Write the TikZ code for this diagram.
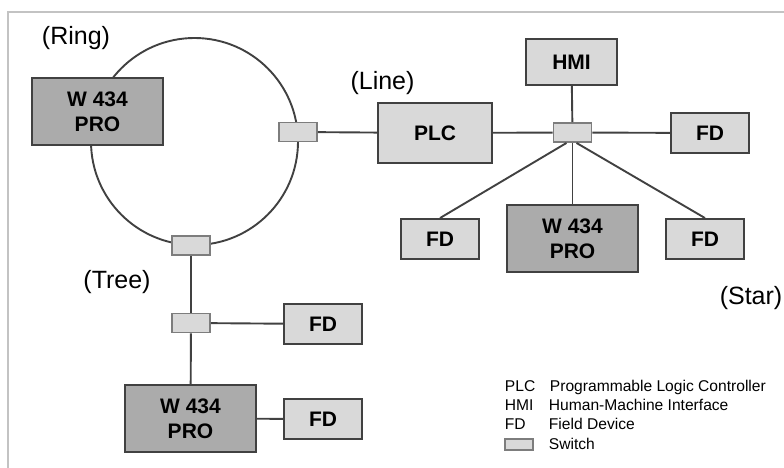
\documentclass[tikz,border=0pt]{standalone}
\usepackage{fontspec}
\setmainfont{Liberation Sans}
\definecolor{boxlight}{RGB}{217,217,217}
\definecolor{boxdark}{RGB}{171,171,171}
\definecolor{boxline}{RGB}{65,65,65}
\definecolor{switchline}{RGB}{125,125,125}
\definecolor{wiregray}{RGB}{65,65,65}
\definecolor{framegray}{RGB}{195,195,195}
\begin{document}
\begin{tikzpicture}[x=1bp, y=-1bp, line width=1.9bp]

    \tikzset{device/.style={%
      draw=boxline,%
      rectangle,%
      fill=boxlight,%
      inner sep=0pt,%
      align=center,%
      font=\fontsize{21bp}{25bp}\selectfont\bfseries}%
    };

    \tikzset{fdbox/.style={device, minimum width=78bp, minimum height=40bp}};
    \tikzset{probox/.style={device, fill=boxdark, minimum width=131bp, minimum height=67bp}};
    \tikzset{switchbox/.style={draw=switchline, fill=boxlight, rectangle, inner sep=0pt,%
      minimum width=38bp, minimum height=19bp}};
    \tikzset{wire/.style={draw=wiregray}};
    \tikzset{toplabel/.style={font=\fontsize{25bp}{29bp}\selectfont}};
    \tikzset{legend/.style={anchor=base west, inner sep=0pt, font=\fontsize{15.6bp}{18bp}\selectfont}};

    \useasboundingbox (0, 0) rectangle (784, 468);
    \draw[framegray, line width=1.2bp] (8, 468) -- (8, 12) -- (784, 12);

    %%%%%%%%%%%%%%%
    % ring        %
    %%%%%%%%%%%%%%%
    \path (194.5, 141.5) coordinate (ringc);
    \draw[wire] (ringc) circle [radius=103.5];

    \path (76, 38) node [toplabel] (ringlbl) {(Ring)};
    \path (97.5, 111.5) node [probox] (ringpro) {W 434\\PRO};
    \path (298, 132) node [switchbox] (ringsw) {};
    \path (191, 245.5) node [switchbox] (ringbot) {};

    %%%%%%%%%%%%%%%
    % line        %
    %%%%%%%%%%%%%%%
    \path (382.5, 83) node [toplabel] (linelbl) {(Line)};
    \path (435, 133) node [device, minimum width=114bp, minimum height=60bp] (plc) {PLC};

    %%%%%%%%%%%%%%%
    % star        %
    %%%%%%%%%%%%%%%
    \path (572.5, 132.5) node [switchbox] (starsw) {};
    \path (571.5, 62) node [device, minimum width=91bp, minimum height=46bp] (hmi) {HMI};
    \path (710, 133) node [fdbox] (starfdr) {FD};
    \path (440, 239) node [fdbox] (starfdl) {FD};
    \path (572.5, 238.5) node [probox] (starpro) {W 434\\PRO};
    \path (705, 239) node [fdbox] (starfdb) {FD};
    \path (751, 298) node [toplabel] (starlbl) {(Star)};

    %%%%%%%%%%%%%%%
    % tree        %
    %%%%%%%%%%%%%%%
    \path (117, 282) node [toplabel] (treelbl) {(Tree)};
    \path (191, 323) node [switchbox] (treesw) {};
    \path (323, 324) node [fdbox] (treefd) {FD};
    \path (190.5, 418.5) node [probox] (treepro) {W 434\\PRO};
    \path (323, 419) node [fdbox] (treefdb) {FD};

    \draw [wire] (ringsw) -- (plc);
    \draw [wire] (plc) -- (starsw);
    \draw [wire] (starsw) -- (hmi);
    \draw [wire] (starsw) -- (starfdr);
    \draw [wire] (starsw) -- (starpro);
    \draw [wire] (starsw.south) ++(-6, 0) coordinate (swl) -- (starfdl.north);
    \draw [wire] (starsw.south) ++(4, 0) coordinate (swr) -- (starfdb.north);
    \draw [wire] (ringbot) -- (treesw);
    \draw [wire] (treesw) -- (treefd);
    \draw [wire] (treesw) -- (treepro);
    \draw [wire] (treepro) -- (treefdb);

    %%%%%%%%%%%%%%%
    % legend      %
    %%%%%%%%%%%%%%%
    \path (504, 391) node [legend] (keyplc) {PLC};
    \path (549, 391) node [legend] (txtplc) {Programmable Logic Controller};
    \path (504, 410) node [legend] (keyhmi) {HMI};
    \path (548, 410) node [legend] (txthmi) {Human-Machine Interface};
    \path (504, 429) node [legend] (keyfd) {FD};
    \path (548, 429) node [legend] (txtfd) {Field Device};
    \path (519, 444.5) node [switchbox, minimum width=28bp, minimum height=11bp, line width=1.2bp] (keysw) {};
    \path (548, 449) node [legend] (txtsw) {Switch};

  \end{tikzpicture}
\end{document}
